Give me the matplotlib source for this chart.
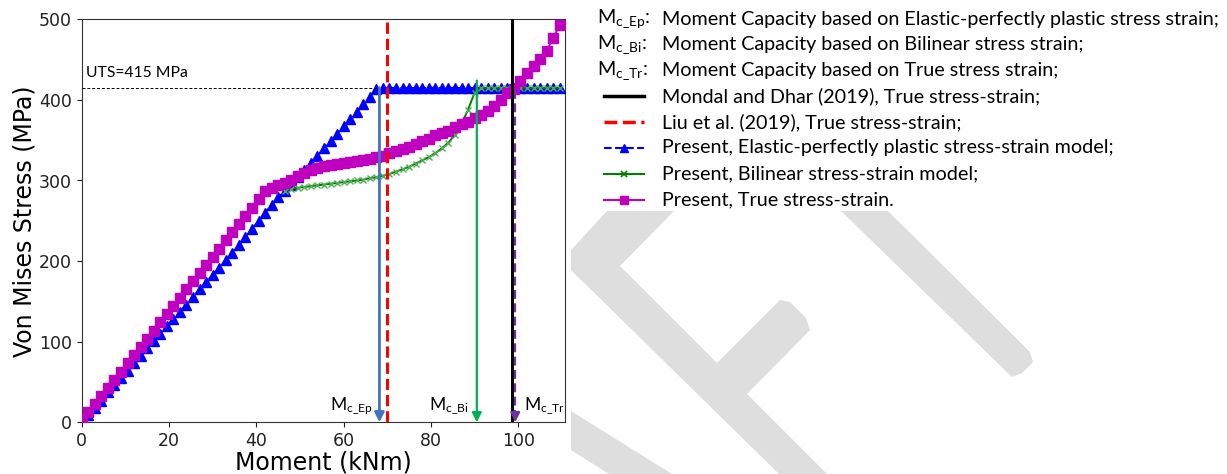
import matplotlib
matplotlib.use("Agg")
import matplotlib.pyplot as plt
from matplotlib.lines import Line2D
from matplotlib.patches import Polygon

# moment steps (kNm)
moment = [0, 1.5, 3, 4.5, 6, 7.5, 9, 10.5, 12, 13.5,
          15, 16.5, 18, 19.5, 21, 22.5, 24, 25.5, 27, 28.5,
          30, 31.5, 33, 34.5, 36, 37.5, 39, 40.5, 42, 43.5,
          45, 46.5, 48, 49.5, 51, 52.5, 54, 55.5, 57, 58.5,
          60, 61.5, 63, 64.5, 66, 67.5, 69, 70.5, 72, 73.5,
          75, 76.5, 78, 79.5, 81, 82.5, 84, 85.5, 87, 88.5,
          90, 91.5, 93, 94.5, 96, 97.5, 99, 100.5, 102, 103.5,
          105, 106.5, 108, 109.5]

# elastic-perfectly plastic
stress_ep = [0, 9, 18, 27, 37, 46, 55, 64, 73, 82,
             92, 101, 110, 119, 128, 137, 146, 156, 165, 174,
             183, 192, 201, 210, 220, 230, 240, 250, 260, 270,
             279, 287, 295, 304, 313, 322, 331, 340, 349, 358,
             367, 376, 385, 395, 404, 413, 415, 415, 415, 415,
             415, 415, 415, 415, 415, 415, 415, 415, 415, 415,
             415, 415, 415, 415, 415, 415, 415, 415, 415, 415,
             415, 415, 415, 415]

# true stress-strain
stress_tr = [4, 13, 23, 33, 43, 53, 63, 73, 83, 93,
             103, 113, 124, 134, 144, 154, 165, 175, 185, 195,
             205, 215, 226, 236, 246, 256, 266, 277, 287, 291,
             294, 297, 301, 305, 309, 313, 316, 318, 319, 320,
             322, 323, 324, 326, 327, 329, 331, 334, 336, 339,
             342, 345, 349, 352, 356, 359, 362, 366, 370, 373,
             377, 381, 386, 393, 400, 408, 414, 424, 433, 442,
             451, 461, 477, 493]

# bilinear (visible once it leaves the elastic line)
moment_bi = [46.5, 48, 49.5, 51, 52.5, 54, 55.5, 57, 58.5, 60,
             61.5, 63, 64.5, 66, 67.5, 69, 70.5, 72, 73.5, 75,
             76.5, 78, 79.5, 81, 82.5, 84, 85.5, 87, 88.5, 90,
             91.5, 93, 94.5, 96, 97.5, 99, 100.5, 102, 103.5, 105,
             106.5, 108, 109.5]
stress_bi = [287, 290, 291, 292, 293, 294, 295, 296, 297, 298,
             299, 300, 301, 303, 304, 306, 308, 311, 314, 317,
             321, 325, 329, 334, 340, 347, 357, 370, 388, 409,
             415, 415, 415, 415, 415, 415, 415, 415, 415, 415,
             415, 415, 415]

uts = 415
liu_moment = 70.0
mondal_moment = 98.6
mc_names = ["c\\_Ep", "c\\_Bi", "c\\_Tr"]
mc_values = [68.2, 90.5, 99.3]

legend_labels = [
    "Moment Capacity based on Elastic-perfectly plastic stress strain;",
    "Moment Capacity based on Bilinear stress strain;",
    "Moment Capacity based on True stress strain;",
    "Mondal and Dhar (2019), True stress-strain;",
    "Liu et al. (2019), True stress-strain;",
    "Present, Elastic-perfectly plastic stress-strain model;",
    "Present, Bilinear stress-strain model;",
    "Present, True stress-strain.",
]

W, H = 1227, 474
plt.rcParams["mathtext.default"] = "regular"
fig = plt.figure(figsize=(W / 100, H / 100), dpi=100)


def px(x, y):
    return x / W, 1 - y / H


# watermark shapes behind everything
wm = "#dedede"
shapes = [
    [(607, 211), (571, 250), (571, 270), (779, 474), (827, 474), (747, 394),
     (810, 330), (806, 318), (790, 302), (780, 300), (717, 363), (620, 266), (674, 211)],
    [(841, 211), (888, 211), (1030, 352), (1033, 362), (1022, 373), (1012, 377)],
    [(571, 411), (672, 474), (609, 474), (571, 450)],
]
for s in shapes:
    fig.add_artist(Polygon([px(*p) for p in s], closed=True, transform=fig.transFigure,
                           facecolor=wm, edgecolor="none", zorder=0))

ax = fig.add_axes([81.7 / W, (H - 422.3) / H, (565 - 81.7) / W, (422.3 - 19.3) / H])
ax.set_zorder(1)

ax.plot(moment, stress_ep, "--", color="blue", marker="^", ms=6.5, lw=1.3, zorder=3)
ax.plot(moment_bi, stress_bi, "-", color="green", marker="x", ms=5, mew=1.0,
        mec="#4caf50", lw=1.4, zorder=4)
ax.plot(moment, stress_tr, "-", color="m", marker="s", ms=6.5, lw=1.3, zorder=5)

ax.axvline(mondal_moment, color="black", lw=2.2, zorder=6)
ax.axvline(liu_moment, color="red", ls="--", lw=2.2, zorder=6)
ax.plot([0, mc_values[0]], [uts, uts], color="black", lw=0.7, ls=(0, (3, 2)), zorder=6)
ax.text(1.0, 428, "UTS=415 MPa", family="Lato", fontsize=11.3, va="baseline")

# capacity arrows
ax.annotate("", xy=(mc_values[0], 0), xytext=(mc_values[0], uts),
            arrowprops=dict(arrowstyle="-|>", color="#4472C4", lw=2, mutation_scale=14,
                            shrinkA=0, shrinkB=0), zorder=7)
ax.annotate("", xy=(mc_values[1], 0), xytext=(mc_values[1], 424),
            arrowprops=dict(arrowstyle="-|>", color="#00B050", lw=1.6, mutation_scale=14,
                            shrinkA=0, shrinkB=0), zorder=7)
ax.plot([mc_values[2], mc_values[2]], [412, 8], color="#7030A0", ls=(0, (4, 2)), lw=1.6, zorder=7)
ax.annotate("", xy=(mc_values[2], 0), xytext=(mc_values[2], 12),
            arrowprops=dict(arrowstyle="-|>", color="#7030A0", lw=1.6, mutation_scale=14,
                            shrinkA=0, shrinkB=0), zorder=7)

ax.text(66.7, 15, "M$_{%s}$" % mc_names[0], family="Lato", fontsize=12.5, ha="right", va="baseline")
ax.text(88.6, 15, "M$_{%s}$" % mc_names[1], family="Lato", fontsize=12.5, ha="right", va="baseline")
ax.text(101.2, 15, "M$_{%s}$" % mc_names[2], family="Lato", fontsize=12.5, ha="left", va="baseline")

ax.set_xlim(0, 110.7)
ax.set_ylim(0, 500)
ax.set_xticks([0, 20, 40, 60, 80, 100])
ax.set_yticks([0, 100, 200, 300, 400, 500])
ax.tick_params(labelsize=12.5, colors="#222222")
for sp in ax.spines.values():
    sp.set_color("#333333")
ax.set_xlabel("Moment (kNm)", fontsize=17, labelpad=0)
ax.set_ylabel("Von Mises Stress (MPa)", fontsize=17, labelpad=2)

# legend drawn by hand on the right
row_y = [19, 44.8, 70.6, 96.4, 122.2, 148, 173.8, 199.6]
text_x = 662
for i, lab in enumerate(legend_labels):
    fx, fy = px(text_x, row_y[i])
    fig.text(fx, fy, lab, family="Lato", fontsize=14.2, va="center", ha="left")
for i in range(3):
    fx, fy = px(597, row_y[i])
    fig.text(fx, fy, "M$_{%s}$:" % mc_names[i], family="Lato", fontsize=14.2, va="center", ha="left")

handles = [
    dict(color="black", ls="-", lw=2.5),
    dict(color="red", ls="--", lw=2.5),
    dict(color="blue", ls="--", lw=1.5, marker="^", ms=6),
    dict(color="green", ls="-", lw=1.5, marker="x", ms=5, mew=1.2),
    dict(color="m", ls="-", lw=1.5, marker="s", ms=6),
]
for j, h in enumerate(handles):
    y = row_y[3 + j]
    xs = [px(604, y)[0], px(624, y)[0], px(644, y)[0]]
    fy = px(0, y)[1]
    fig.add_artist(Line2D(xs, [fy] * 3, transform=fig.transFigure, markevery=[1], **h))

fig.savefig("out.png", dpi=100)
